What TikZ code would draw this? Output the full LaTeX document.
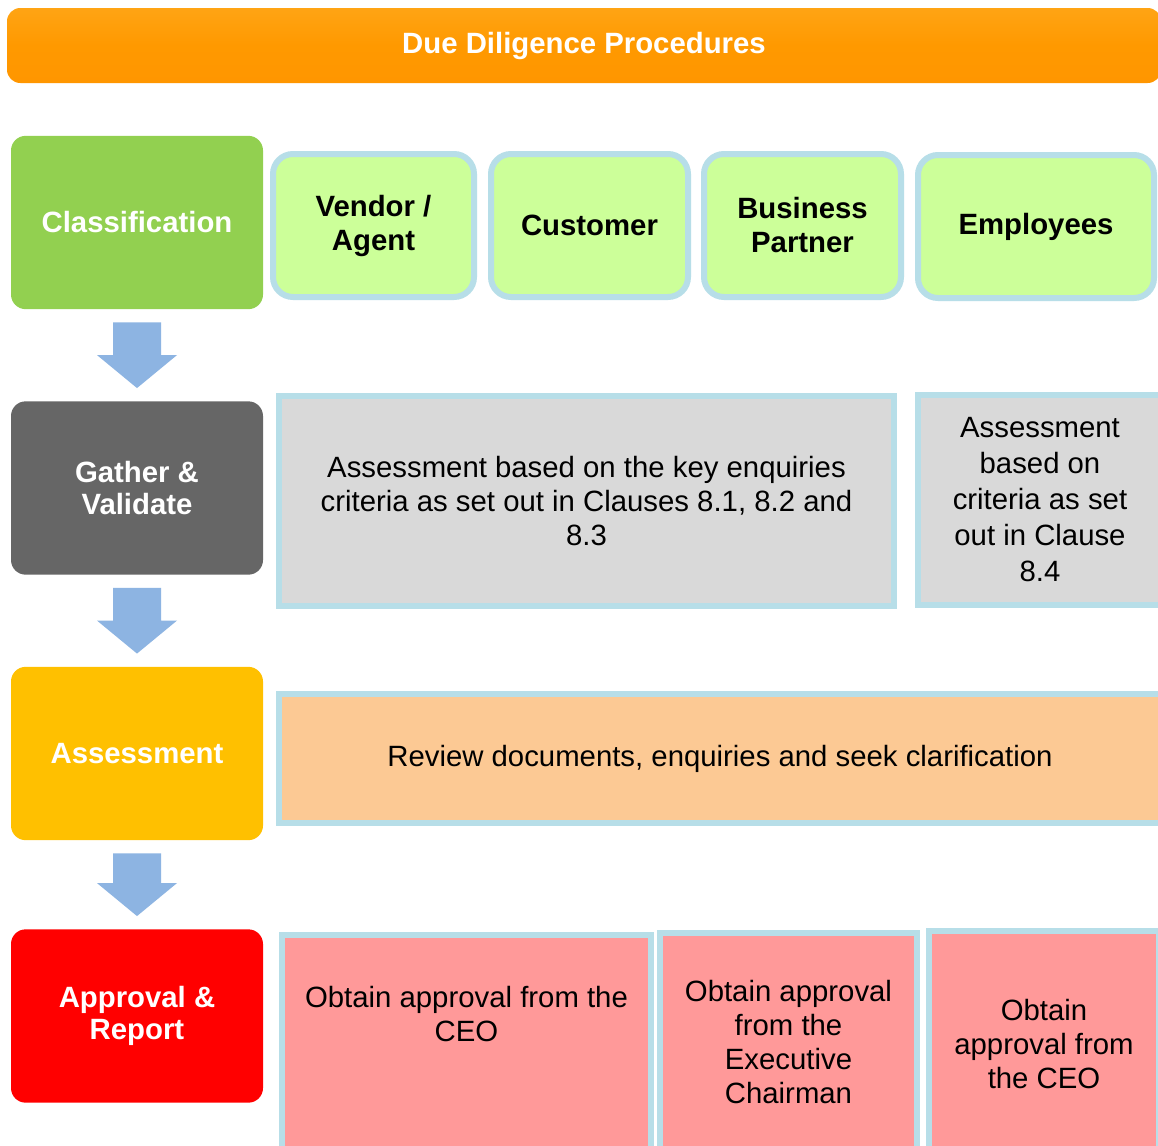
\documentclass[tikz,border=0pt]{standalone}
\usepackage{fontspec}
\setmainfont{Liberation Sans}
\usetikzlibrary{calc}

\definecolor{bannerTop}{HTML}{FFA414}
\definecolor{bannerMid}{HTML}{FF9900}
\definecolor{bannerBot}{HTML}{FF9600}
\definecolor{stageGreen}{HTML}{92D050}
\definecolor{stageGray}{HTML}{666666}
\definecolor{stageGold}{HTML}{FFC000}
\definecolor{stageRed}{HTML}{FF0000}
\definecolor{catFill}{HTML}{CCFF99}
\definecolor{rimBlue}{HTML}{B7DEE8}
\definecolor{grayFill}{HTML}{D9D9D9}
\definecolor{peachFill}{HTML}{FCC994}
\definecolor{pinkFill}{HTML}{FF9999}
\definecolor{flowBlue}{HTML}{8DB4E2}

\newcommand{\flowarrow}[2]{%
  \fill[flowBlue]
    ($(#1.south)+(-24,13)$) -- ($(#1.south)+(24,13)$) --
    ($(#2.north)+(24,-46)$) -- ($(#2.north)+(40,-46)$) --
    ($(#2.north)+(0,-13)$) --
    ($(#2.north)+(-40,-46)$) -- ($(#2.north)+(-24,-46)$) -- cycle;}

\begin{document}
\begin{tikzpicture}[x=0.75pt,y=-0.75pt,
  txt/.style={font=\fontsize{22}{25.5}\selectfont, align=center},
  banner/.style={rounded corners=10pt, top color=bannerTop, bottom color=bannerBot,
    middle color=bannerMid, text=white, font=\bfseries\fontsize{22}{25.5}\selectfont,
    minimum width=865.5pt, minimum height=56.25pt, inner sep=0pt},
  stage/.style={rounded corners=11pt, text=white, txt, font=\bfseries\fontsize{22}{23.5}\selectfont,
    minimum width=189pt, minimum height=130pt, inner sep=0pt},
  catbox/.style={draw=rimBlue, line width=4.5pt, fill=catFill, rounded corners=15pt,
    txt, font=\bfseries\fontsize{22}{25.5}\selectfont, minimum height=107.25pt, inner sep=0pt},
  infobox/.style={draw=rimBlue, line width=4.5pt, txt, inner sep=0pt}
]
\clip (0,0) rectangle (1158,1146);
\fill[white] (0,0) rectangle (1158,1146);

% heading banner
\node[banner] (title) at (584,45.5) {Due Diligence Procedures};

% stage column
\node[stage, fill=stageGreen] (cls) at (137,222.5) {Classification};
\node[stage, fill=stageGray]  (gat) at (137,488)   {Gather \&\\Validate};
\node[stage, fill=stageGold]  (ass) at (137,753.5) {Assessment};
\node[stage, fill=stageRed]   (app) at (137,1016)  {Approval \&\\Report};

% arrows between stages
\flowarrow{cls}{gat}
\flowarrow{gat}{ass}
\flowarrow{ass}{app}

% classification categories
\node[catbox, minimum width=150.75pt] (ven) at (373.5,225.5) {Vendor /\\Agent};
\node[catbox, minimum width=147.75pt] (cus) at (589.5,225.5) {Customer};
\node[catbox, minimum width=147.75pt] (bus) at (802.5,225.5) {Business\\Partner};
\node[catbox, minimum width=177pt] (emp) at (1036,226.5) {Employees};

% gather & validate criteria
\node[infobox, fill=grayFill, minimum width=461.25pt, minimum height=157.5pt] (gk) at (586.5,501)
  {Assessment based on the key enquiries\\criteria as set out in Clauses 8.1, 8.2 and\\8.3};
\node[infobox, fill=grayFill, minimum width=183pt, minimum height=157.5pt,
  font=\fontsize{22}{27}\selectfont] (ge) at (1040,500)
  {Assessment\\based on\\criteria as set\\out in Clause\\8.4};

% assessment step
\node[infobox, fill=peachFill, minimum width=661.5pt, minimum height=96.75pt] (rv) at (720,758.5)
  {Review documents, enquiries and seek clarification};

% approval boxes
\node[infobox, fill=pinkFill, minimum width=276.75pt, minimum height=174pt] (p1) at (466.5,1051) {};
\node[txt] (p1t) at ($(p1.north)+(0,82)$) {Obtain approval from the\\CEO};
\node[infobox, fill=pinkFill, minimum width=192.75pt, minimum height=165pt] (p2) at (788.5,1042.5)
  {Obtain approval\\from the\\Executive\\Chairman};
\node[infobox, fill=pinkFill, minimum width=172.5pt, minimum height=169.5pt] (p3) at (1044,1044)
  {Obtain\\approval from\\the CEO};
\end{tikzpicture}
\end{document}
